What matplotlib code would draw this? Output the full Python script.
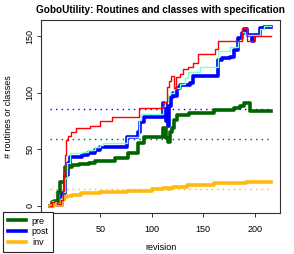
import matplotlib
matplotlib.use("Agg")
import matplotlib.pyplot as plt
from matplotlib.lines import Line2D

plt.rcParams["font.family"] = ["Liberation Sans", "DejaVu Sans"]

# step breakpoints (revision, count)
red_rev = [1, 3, 5, 8, 10, 12, 14, 15, 16, 17, 19, 22, 26, 40, 50, 61, 88, 111, 115, 117,
           119, 122, 124, 127, 130, 135, 140, 145, 161, 164, 188, 193, 197, 199, 216]
red_val = [0, 3, 4, 2, 2, 5, 14, 30, 45, 58, 62, 65, 69, 71, 75, 78.5, 86.5, 92, 105, 110,
           114.6, 104, 114, 117, 121, 123, 126, 134, 139, 146, 157, 146, 146, 150, 150]

aqua_rev = [1, 3, 5, 8, 10, 12, 14, 16, 18, 21, 32, 38, 45, 50, 53, 76, 88, 90, 111, 113,
            116, 118, 122, 127, 132, 135, 147, 164, 176, 184, 188, 191, 205, 209, 216]
aqua_val = [0, 4, 3, 1, 2, 6, 12, 25, 38, 47, 48, 49.5, 52, 54, 55.5, 61, 76, 81.5, 88, 93,
            98, 100, 104, 108, 113, 118, 123, 137, 140, 146, 154, 151, 156.7, 158.7, 158.7]

post_rev = [1, 3, 5, 8, 10, 13, 16, 19, 21, 32, 38, 45, 50, 76, 87, 89, 92, 111, 114, 116,
            117, 119, 121, 123, 125, 127, 137, 140, 164, 168, 176, 180, 184, 188, 190, 193,
            197, 199, 205, 209, 216]
post_val = [0, 2, 3, 1, 1, 11, 27, 38, 43.5, 45, 47, 49.4, 52, 61, 65.5, 74, 79, 91, 75, 71,
            88, 96, 100, 97, 104, 107, 109, 114.6, 129, 130.5, 131.7, 138, 148, 152.5, 156, 150.8,
            146, 150.8, 157, 158, 158]

pre_rev = [1, 3, 5, 7, 9, 11, 16, 23, 29, 39, 45, 64, 77, 87, 92, 111, 114, 116, 118, 120,
           122, 125, 136, 160, 180, 186, 190, 195, 216]
pre_val = [0, 3, 4, 2, 12.6, 21, 34.7, 36, 37, 38, 40, 42, 46.5, 55.5, 61, 68.5, 60, 56.7, 65, 69,
           76, 80, 82, 85, 86.5, 88, 91, 84, 84]

inv_rev = [1, 5, 8, 13, 15, 18, 23, 31, 40, 50, 76, 100, 111, 116, 118, 121, 134, 160, 192, 216]
inv_val = [0, 2, 1, 5, 8, 9, 10, 11, 11.5, 12.5, 13.5, 14.5, 15.5, 15, 16, 17, 18.5, 20, 21, 21]

# dotted reference levels
post_ref = 85.5
pre_ref = 59
inv_ref = 14.7

x_ticks = [0, 50, 100, 150, 200]
x_labels = ["", "50", "100", "150", "200"]   # the 0 label sits under the legend
y_ticks = [0, 50, 100, 150]

RED = "#FF0000"
AQUA = "#7FFFD4"
BLUE = "#0000FF"
GREEN = "#006400"
GOLD = "#FFB90F"

fig = plt.figure(figsize=(2.94, 2.54), dpi=100)
ax = fig.add_axes([41 / 294, 1 - 213 / 254, 239 / 294, 193 / 254])

thick = 2.6
thin = 1.0
ax.plot(post_rev, post_val, drawstyle="steps-post", color=BLUE, lw=thick, zorder=3)
ax.plot(pre_rev, pre_val, drawstyle="steps-post", color=GREEN, lw=thick, zorder=3)
ax.plot(inv_rev, inv_val, drawstyle="steps-post", color=GOLD, lw=thick, zorder=3)
ax.plot(aqua_rev, aqua_val, drawstyle="steps-post", color=AQUA, lw=thin, zorder=4)
ax.plot(red_rev, red_val, drawstyle="steps-post", color=RED, lw=thin, zorder=4)

x0, x1 = post_rev[0], post_rev[-1] - 1
for lvl, c in [(post_ref, BLUE), (pre_ref, GREEN), (inv_ref, GOLD)]:
    ax.plot([x0, x1], [lvl, lvl], color=c, lw=1.0, linestyle=(0, (1, 3)), zorder=2)

ax.set_xlim(-7.6, 224.6)
ax.set_ylim(-6.3, 164.3)
ax.set_xticks(x_ticks)
ax.set_xticklabels(x_labels)
ax.set_yticks(y_ticks)
ax.tick_params(labelsize=6.5, length=3, width=0.7, color="#333333", pad=6)
ax.tick_params(axis="y", pad=1.5)
for lab in ax.get_yticklabels():
    lab.set_rotation(90)
    lab.set_va("center")
for s in ax.spines.values():
    s.set_color("#333333")
    s.set_linewidth(0.8)

fig.text(160.5 / 294, 1 - 10 / 254, "GoboUtility: Routines and classes with specification",
         ha="center", va="center", fontsize=7.2, fontweight="bold")
fig.text(160.5 / 294, 1 - 248 / 254, "revision", ha="center", va="center", fontsize=6.5)
fig.text(9 / 294, 1 - 117 / 254, "# routines or classes", ha="center", va="center",
         rotation=90, fontsize=6.5)

handles = [Line2D([], [], color=GREEN, lw=thick),
           Line2D([], [], color=BLUE, lw=thick),
           Line2D([], [], color=GOLD, lw=thick)]
leg = ax.legend(handles, ["pre", "post", "inv"], loc="upper left",
                bbox_to_anchor=(3 / 294, 1 - 212 / 254), bbox_transform=fig.transFigure,
                fontsize=6.5, frameon=True, fancybox=False, framealpha=1,
                edgecolor="#222222", handlelength=2.0, handletextpad=0.7,
                labelspacing=0.2, borderpad=0.5, borderaxespad=0)
leg.get_frame().set_linewidth(0.8)
leg.set_zorder(10)

fig.savefig("out.png", dpi=100)
